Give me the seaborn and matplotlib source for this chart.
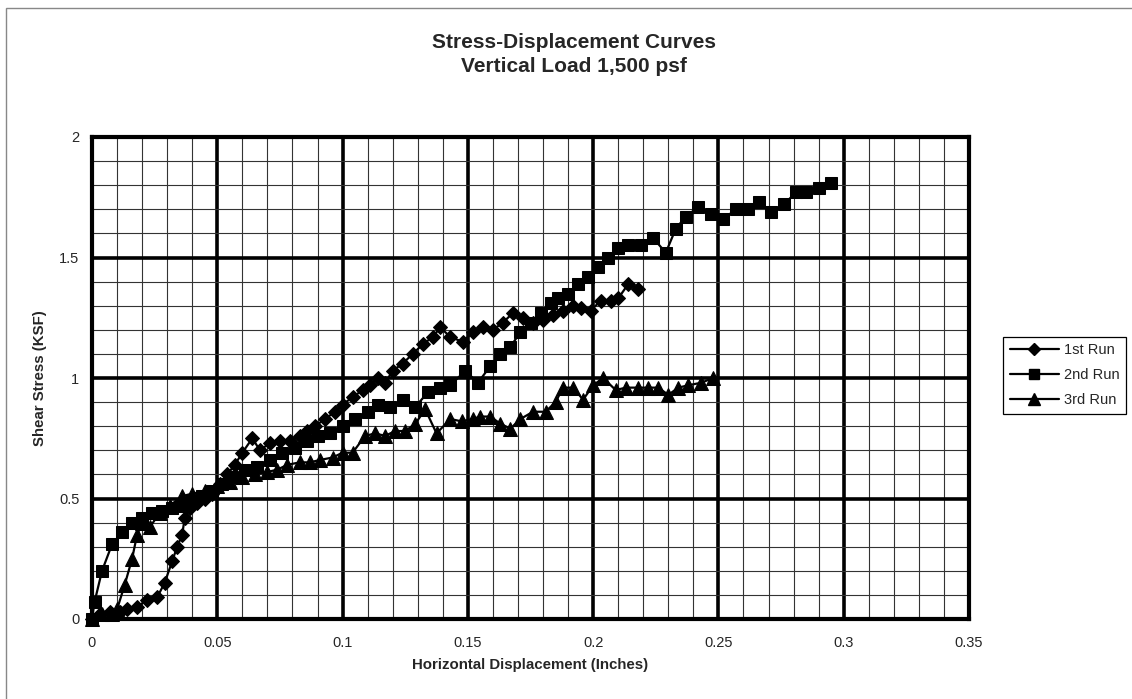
import numpy as np
import pandas as pd
import seaborn as sns
import matplotlib
matplotlib.use("Agg")
import matplotlib.pyplot as plt
from matplotlib.patches import Rectangle
from matplotlib.ticker import MultipleLocator, FuncFormatter

x1 = [0, 0.003, 0.007, 0.011, 0.014, 0.018, 0.022, 0.026, 0.029, 0.032, 0.034, 0.036, 0.037,
      0.039, 0.042, 0.045, 0.048, 0.051, 0.054, 0.057, 0.060, 0.064, 0.067, 0.071, 0.075, 0.079,
      0.083, 0.086, 0.089, 0.093, 0.097, 0.100, 0.104, 0.108, 0.111, 0.114, 0.117, 0.120, 0.124,
      0.128, 0.132, 0.136, 0.139, 0.143, 0.148, 0.152, 0.156, 0.160, 0.164, 0.168, 0.172, 0.176,
      0.180, 0.184, 0.188, 0.192, 0.195, 0.199, 0.203, 0.207, 0.210, 0.214, 0.218]
y1 = [0, 0.02, 0.03, 0.03, 0.04, 0.05, 0.08, 0.09, 0.15, 0.24, 0.30, 0.35, 0.42,
      0.46, 0.48, 0.50, 0.52, 0.56, 0.60, 0.64, 0.69, 0.75, 0.70, 0.73, 0.74, 0.74,
      0.76, 0.78, 0.80, 0.83, 0.86, 0.89, 0.92, 0.95, 0.97, 1.00, 0.98, 1.03, 1.06,
      1.10, 1.14, 1.17, 1.21, 1.17, 1.15, 1.19, 1.21, 1.20, 1.23, 1.27, 1.25, 1.23,
      1.24, 1.26, 1.28, 1.30, 1.29, 1.28, 1.32, 1.32, 1.33, 1.39, 1.37]

x2 = [0, 0.001, 0.004, 0.008, 0.012, 0.016, 0.020, 0.024, 0.028, 0.032, 0.036, 0.040, 0.044,
      0.048, 0.052, 0.056, 0.061, 0.066, 0.071, 0.076, 0.081, 0.086, 0.090, 0.095, 0.100, 0.105,
      0.110, 0.114, 0.119, 0.124, 0.129, 0.134, 0.139, 0.143, 0.149, 0.154, 0.159, 0.163, 0.167,
      0.171, 0.175, 0.179, 0.183, 0.186, 0.190, 0.194, 0.198, 0.202, 0.206, 0.210, 0.214, 0.219,
      0.224, 0.229, 0.233, 0.237, 0.242, 0.247, 0.252, 0.257, 0.262, 0.266, 0.271, 0.276, 0.281,
      0.285, 0.290, 0.295]
y2 = [0, 0.07, 0.20, 0.31, 0.36, 0.40, 0.42, 0.44, 0.45, 0.46, 0.47, 0.49, 0.51,
      0.53, 0.56, 0.59, 0.62, 0.63, 0.66, 0.69, 0.71, 0.74, 0.76, 0.77, 0.80, 0.83,
      0.86, 0.89, 0.88, 0.91, 0.88, 0.94, 0.96, 0.97, 1.03, 0.98, 1.05, 1.10, 1.13,
      1.19, 1.23, 1.27, 1.31, 1.33, 1.35, 1.39, 1.42, 1.46, 1.50, 1.54, 1.55, 1.55,
      1.58, 1.52, 1.62, 1.67, 1.71, 1.68, 1.66, 1.70, 1.70, 1.73, 1.69, 1.72, 1.77,
      1.77, 1.79, 1.81]

x3 = [0, 0.004, 0.008, 0.010, 0.013, 0.016, 0.018, 0.020, 0.023, 0.027, 0.031, 0.036, 0.040,
      0.045, 0.050, 0.055, 0.060, 0.065, 0.070, 0.074, 0.078, 0.083, 0.087, 0.091, 0.096, 0.100,
      0.104, 0.109, 0.113, 0.117, 0.121, 0.125, 0.129, 0.133, 0.1375, 0.143, 0.1475, 0.152, 0.155,
      0.159, 0.163, 0.167, 0.171, 0.176, 0.181, 0.185, 0.188, 0.192, 0.196, 0.200, 0.204, 0.209,
      0.213, 0.218, 0.222, 0.226, 0.230, 0.234, 0.238, 0.243, 0.248]
y3 = [0, 0.02, 0.02, 0.04, 0.14, 0.25, 0.35, 0.40, 0.38, 0.44, 0.47, 0.51, 0.52,
      0.53, 0.55, 0.57, 0.59, 0.60, 0.61, 0.62, 0.64, 0.65, 0.65, 0.66, 0.67, 0.69,
      0.69, 0.76, 0.77, 0.76, 0.78, 0.78, 0.81, 0.87, 0.77, 0.83, 0.82, 0.83, 0.84,
      0.84, 0.81, 0.79, 0.83, 0.86, 0.86, 0.90, 0.96, 0.96, 0.91, 0.97, 1.00, 0.95,
      0.96, 0.96, 0.96, 0.96, 0.93, 0.96, 0.97, 0.98, 1.00]

runs = ['1st Run', '2nd Run', '3rd Run']
marker_of = {'1st Run': 'D', '2nd Run': 's', '3rd Run': '^'}
msize = {'1st Run': 7.5, '2nd Run': 8.5, '3rd Run': 10}

df = pd.concat([
    pd.DataFrame({'x': x1, 'y': y1, 'run': runs[0]}),
    pd.DataFrame({'x': x2, 'y': y2, 'run': runs[1]}),
    pd.DataFrame({'x': x3, 'y': y3, 'run': runs[2]}),
], ignore_index=True)

sns.set_style('white')
plt.rcParams['font.family'] = ['Liberation Sans', 'DejaVu Sans']

fig = plt.figure(figsize=(11.32, 6.99), dpi=100)
ax = fig.add_axes([92 / 1132, 1 - 619 / 699, (969 - 92) / 1132, (619 - 137) / 699])

sns.lineplot(data=df, x='x', y='y', hue='run', style='run', sort=False,
             palette={r: 'black' for r in runs}, markers=marker_of,
             dashes=False, markersize=8, markeredgecolor='black',
             linewidth=1.6, legend=False, ax=ax)
for ln, r in zip(ax.lines, runs):
    ln.set_clip_on(False)
    ln.set_zorder(5)
    ln.set_markersize(msize[r])

ax.set_xlim(0, 0.35)
ax.set_ylim(0, 2)
ax.xaxis.set_major_locator(MultipleLocator(0.05))
ax.xaxis.set_minor_locator(MultipleLocator(0.01))
ax.yaxis.set_major_locator(MultipleLocator(0.5))
ax.yaxis.set_minor_locator(MultipleLocator(0.1))
fmt = FuncFormatter(lambda v, p: f'{v:g}')
ax.xaxis.set_major_formatter(fmt)
ax.yaxis.set_major_formatter(fmt)

ax.grid(which='major', color='black', linewidth=2.6)
ax.grid(which='minor', color='#333333', linewidth=0.8)
ax.set_axisbelow(True)
for s in ax.spines.values():
    s.set_color('black')
    s.set_linewidth(3)

ax.tick_params(which='major', direction='out', length=3, width=3, color='black',
               labelsize=10.5, pad=6)
ax.tick_params(axis='x', which='major', pad=9)
ax.tick_params(which='minor', length=0)
ax.set_xlabel('')
ax.set_ylabel('')

fig.text(530 / 1132, 1 - 665 / 699, 'Horizontal Displacement (Inches)', ha='center', va='center',
         fontsize=10.8, fontweight='bold')
fig.text(40 / 1132, 1 - 378 / 699, 'Shear Stress (KSF)', ha='center', va='center',
         rotation=90, fontsize=10.8, fontweight='bold')

fig.text(574 / 1132, 1 - 42 / 699, 'Stress-Displacement Curves', ha='center', va='center',
         fontsize=15, fontweight='bold')
fig.text(574 / 1132, 1 - 67 / 699, 'Vertical Load 1,500 psf', ha='center', va='center',
         fontsize=15, fontweight='bold')

handles = [plt.Line2D([], [], color='black', linewidth=1.6, marker=marker_of[r],
                      markersize=msize[r] * 0.85) for r in runs]
leg = ax.legend(handles=handles, labels=runs, loc='center left',
                bbox_to_anchor=(1003 / 1132, 1 - 375 / 699), bbox_transform=fig.transFigure,
                frameon=True, fancybox=False, framealpha=1, edgecolor='black',
                fontsize=10.5, handlelength=3.4, borderpad=0.45, labelspacing=0.75,
                handletextpad=0.3, borderaxespad=0)
leg.get_frame().set_linewidth(0.9)

# scanned page border (left and top edges visible)
fig.add_artist(Rectangle((6 / 1132, -0.1), 1.2, 1 - 8 / 699 + 0.1, transform=fig.transFigure,
                         fill=False, edgecolor='#888888', linewidth=1))

fig.savefig('out.png', dpi=100)
